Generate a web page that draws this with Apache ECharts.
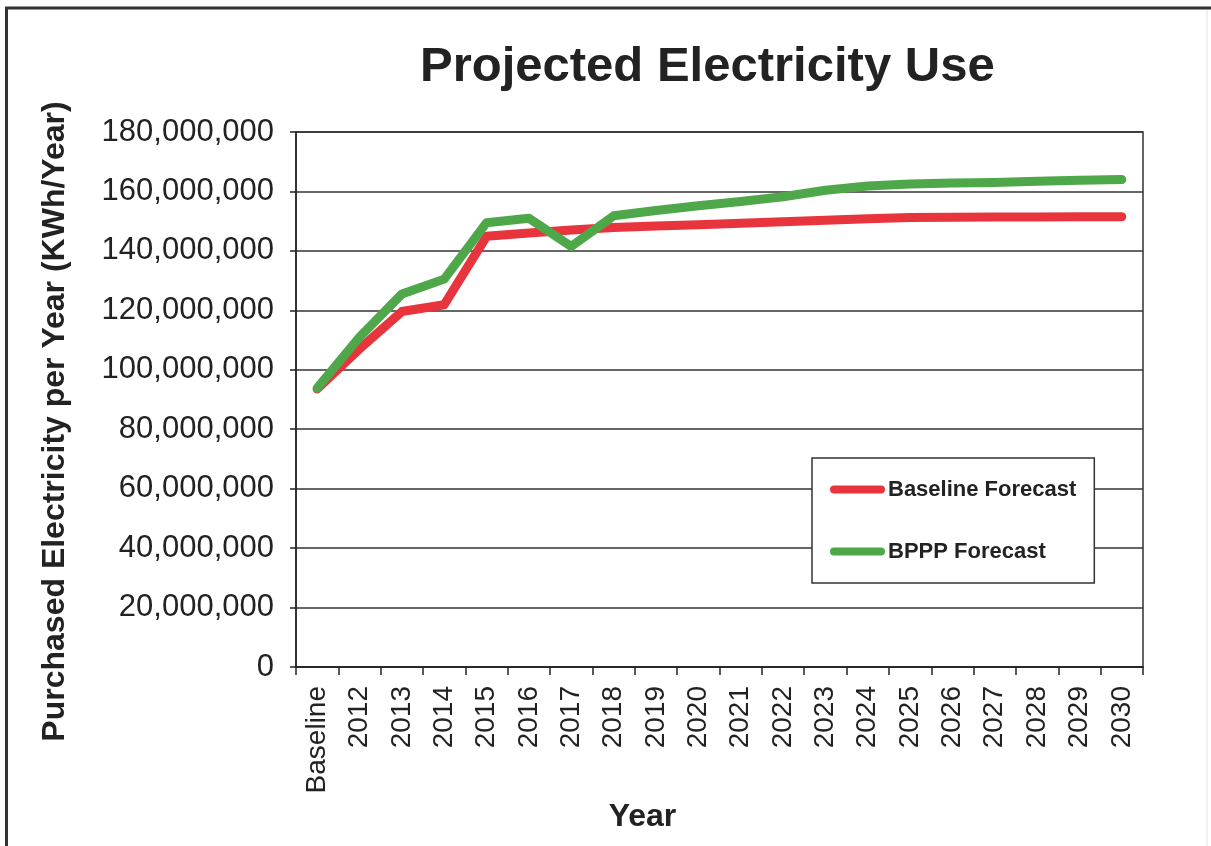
<!DOCTYPE html>
<html>
<head>
<meta charset="utf-8">
<title>Projected Electricity Use</title>
<script src="https://cdn.jsdelivr.net/npm/echarts@6/dist/echarts.min.js"></script>
<style>
  html, body { margin: 0; padding: 0; background: #ffffff; }
  #chart { width: 1211px; height: 846px; }
</style>
</head>
<body>
<div id="chart"></div>
<script>
// Forecast years (first point is the baseline year)
const categories = ['Baseline', '2012', '2013', '2014', '2015', '2016', '2017', '2018', '2019', '2020',
  '2021', '2022', '2023', '2024', '2025', '2026', '2027', '2028', '2029', '2030'];

// Purchased electricity, kWh per year
const baselineForecast = [93500000, 107000000, 119600000, 121900000, 144900000, 146000000, 147000000,
  147900000, 148400000, 148800000, 149300000, 149800000, 150300000, 150800000, 151200000,
  151300000, 151400000, 151400000, 151500000, 151500000];
const bpppForecast = [93800000, 111000000, 125500000, 130500000, 149500000, 151000000, 141500000,
  151800000, 153600000, 155200000, 156600000, 158200000, 160400000, 161800000, 162500000,
  162800000, 163000000, 163400000, 163800000, 164000000];

const seriesNames = ['Baseline Forecast', 'BPPP Forecast'];
const yTicks = { min: 0, max: 180000000, step: 20000000 };

const chart = echarts.init(document.getElementById('chart'), null, { renderer: 'canvas' });

const fmt = v => String(v).replace(/\B(?=(\d{3})+(?!\d))/g, ',');
const capsule = 'path://M4,0 L51,0 A4,4 0 0 1 51,8 L4,8 A4,4 0 0 1 4,0 Z';

chart.setOption({
  backgroundColor: '#ffffff',
  animation: false,
  textStyle: { fontFamily: 'Liberation Sans, Arial, sans-serif' },
  title: {
    text: 'Projected Electricity Use',
    left: 420,
    top: 43,
    padding: 0,
    textStyle: { fontSize: 49, fontWeight: 'bold', color: '#222', fontFamily: 'Liberation Sans, Arial, sans-serif' }
  },
  graphic: [
    { type: 'line', shape: { x1: 5, y1: 8, x2: 1211, y2: 8 }, style: { stroke: '#333', lineWidth: 3 } },
    { type: 'line', shape: { x1: 6.5, y1: 7, x2: 6.5, y2: 846 }, style: { stroke: '#333', lineWidth: 3 } },
    { type: 'line', shape: { x1: 1207, y1: 10, x2: 1207, y2: 846 }, style: { stroke: '#e4e4e4', lineWidth: 1 } }
  ],
  legend: {
    data: seriesNames,
    orient: 'vertical',
    left: 812,
    top: 458,
    padding: [19, 18, 19, 18],
    itemGap: 37,
    itemWidth: 55,
    itemHeight: 8,
    icon: capsule,
    backgroundColor: '#ffffff',
    borderColor: '#333',
    borderWidth: 1.5,
    textStyle: { fontSize: 22, fontWeight: 'bold', color: '#222', lineHeight: 25, padding: [0, 0, 0, -2] }
  },
  grid: {
    left: 296, right: 68, top: 132, bottom: 179,
    show: true, borderColor: '#333', borderWidth: 1.5, backgroundColor: 'transparent'
  },
  xAxis: {
    type: 'category',
    data: categories,
    boundaryGap: true,
    name: 'Year',
    nameLocation: 'middle',
    nameGap: 114,
    nameTextStyle: { fontSize: 32, fontWeight: 'bold', color: '#222', padding: [0, 154, 0, 0] },
    axisLine: { lineStyle: { color: '#222', width: 1.5 } },
    axisTick: { show: true, length: 8, lineStyle: { color: '#222', width: 1.5 } },
    axisLabel: { rotate: 90, fontSize: 28, color: '#222', margin: 19, interval: 0 },
    splitLine: { show: false }
  },
  yAxis: {
    type: 'value',
    min: yTicks.min,
    max: yTicks.max,
    interval: yTicks.step,
    name: 'Purchased Electricity per Year (KWh/Year)',
    nameLocation: 'middle',
    nameGap: 225,
    nameRotate: 90,
    nameTextStyle: { fontSize: 32, fontWeight: 'bold', color: '#222', padding: [0, 44, 0, 0] },
    axisLine: { show: true, lineStyle: { color: '#222', width: 1.5 } },
    axisTick: { show: true, length: 6, lineStyle: { color: '#222', width: 1.5 } },
    axisLabel: { fontSize: 31, color: '#222', margin: 22, formatter: fmt },
    splitLine: { show: true, lineStyle: { color: '#333', width: 1.5 } }
  },
  series: [
    {
      name: seriesNames[0],
      type: 'line',
      data: baselineForecast,
      symbol: 'none',
      color: '#e8353d',
      lineStyle: { width: 9, color: '#e8353d', cap: 'round', join: 'round' },
      z: 3
    },
    {
      name: seriesNames[1],
      type: 'line',
      data: bpppForecast,
      symbol: 'none',
      color: '#4ea84a',
      lineStyle: { width: 9, color: '#4ea84a', cap: 'round', join: 'round' },
      z: 4
    }
  ]
});
</script>
</body>
</html>
